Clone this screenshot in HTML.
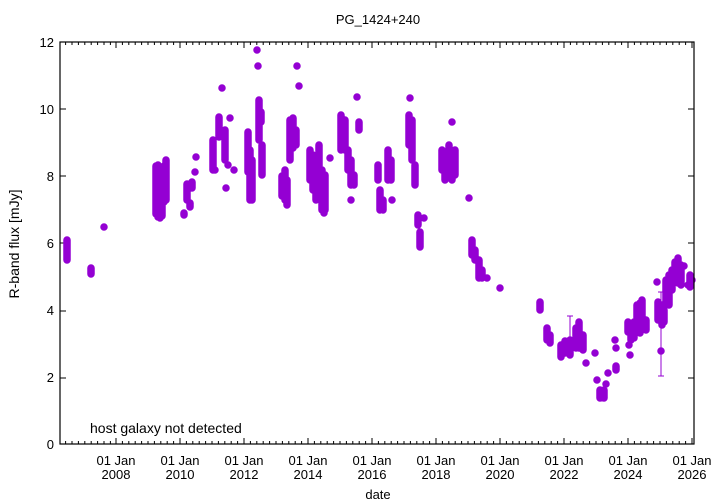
<!DOCTYPE html>
<html><head><meta charset="utf-8"><style>
body{margin:0;background:#fff}
svg{display:block;font-family:"Liberation Sans",sans-serif}
</style></head><body>
<svg width="720" height="504" xmlns="http://www.w3.org/2000/svg">
<rect width="720" height="504" fill="#fff"/>
<text x="378" y="24" font-size="13" text-anchor="middle">PG_1424+240</text>
<text x="378" y="499" font-size="13" text-anchor="middle">date</text>
<text transform="translate(19,244) rotate(-90)" font-size="14" text-anchor="middle">R-band flux [mJy]</text>
<text x="90" y="433" font-size="14">host galaxy not detected</text>
<g font-size="13" text-anchor="end">
<text x="54" y="449">0</text><text x="54" y="382">2</text><text x="54" y="315">4</text><text x="54" y="248">6</text><text x="54" y="181">8</text><text x="54" y="114">10</text><text x="54" y="47">12</text>
</g>
<g stroke="#000" stroke-width="1">
<path d="M60 378h6M60 311h6M60 243h6M60 176h6M60 109h6M694 378h-6M694 311h-6M694 243h-6M694 176h-6M694 109h-6"/>
</g>
<g font-size="13" text-anchor="middle">
<text x="116" y="465">01 Jan</text><text x="116" y="479">2008</text>
<text x="180" y="465">01 Jan</text><text x="180" y="479">2010</text>
<text x="244" y="465">01 Jan</text><text x="244" y="479">2012</text>
<text x="308" y="465">01 Jan</text><text x="308" y="479">2014</text>
<text x="372" y="465">01 Jan</text><text x="372" y="479">2016</text>
<text x="436" y="465">01 Jan</text><text x="436" y="479">2018</text>
<text x="500" y="465">01 Jan</text><text x="500" y="479">2020</text>
<text x="564" y="465">01 Jan</text><text x="564" y="479">2022</text>
<text x="628" y="465">01 Jan</text><text x="628" y="479">2024</text>
<text x="692" y="465">01 Jan</text><text x="692" y="479">2026</text>
</g>
<g stroke="#000" stroke-width="1">
<path d="M116 444v-6M180 444v-6M244 444v-6M308 444v-6M372 444v-6M436 444v-6M500 444v-6M564 444v-6M628 444v-6M692 444v-6M116 42v6M180 42v6M244 42v6M308 42v6M372 42v6M436 42v6M500 42v6M564 42v6M628 42v6M692 42v6"/>
<path d="M65.6 444v-3M72 444v-3M78.4 444v-3M84.8 444v-3M91.2 444v-3M97.6 444v-3M104 444v-3M110.4 444v-3M122.4 444v-3M128.8 444v-3M135.2 444v-3M141.6 444v-3M148 444v-3M154.4 444v-3M160.8 444v-3M167.2 444v-3M173.6 444v-3M186.4 444v-3M192.8 444v-3M199.2 444v-3M205.6 444v-3M212 444v-3M218.4 444v-3M224.8 444v-3M231.2 444v-3M237.6 444v-3M250.4 444v-3M256.8 444v-3M263.2 444v-3M269.6 444v-3M276 444v-3M282.4 444v-3M288.8 444v-3M295.2 444v-3M301.6 444v-3M314.4 444v-3M320.8 444v-3M327.2 444v-3M333.6 444v-3M340 444v-3M346.4 444v-3M352.8 444v-3M359.2 444v-3M365.6 444v-3M378.4 444v-3M384.8 444v-3M391.2 444v-3M397.6 444v-3M404 444v-3M410.4 444v-3M416.8 444v-3M423.2 444v-3M429.6 444v-3M442.4 444v-3M448.8 444v-3M455.2 444v-3M461.6 444v-3M468 444v-3M474.4 444v-3M480.8 444v-3M487.2 444v-3M493.6 444v-3M506.4 444v-3M512.8 444v-3M519.2 444v-3M525.6 444v-3M532 444v-3M538.4 444v-3M544.8 444v-3M551.2 444v-3M557.6 444v-3M570.4 444v-3M576.8 444v-3M583.2 444v-3M589.6 444v-3M596 444v-3M602.4 444v-3M608.8 444v-3M615.2 444v-3M621.6 444v-3M634.4 444v-3M640.8 444v-3M647.2 444v-3M653.6 444v-3M660 444v-3M666.4 444v-3M672.8 444v-3M679.2 444v-3M685.6 444v-3"/>
<path d="M65.6 42v3M72 42v3M78.4 42v3M84.8 42v3M91.2 42v3M97.6 42v3M104 42v3M110.4 42v3M122.4 42v3M128.8 42v3M135.2 42v3M141.6 42v3M148 42v3M154.4 42v3M160.8 42v3M167.2 42v3M173.6 42v3M186.4 42v3M192.8 42v3M199.2 42v3M205.6 42v3M212 42v3M218.4 42v3M224.8 42v3M231.2 42v3M237.6 42v3M250.4 42v3M256.8 42v3M263.2 42v3M269.6 42v3M276 42v3M282.4 42v3M288.8 42v3M295.2 42v3M301.6 42v3M314.4 42v3M320.8 42v3M327.2 42v3M333.6 42v3M340 42v3M346.4 42v3M352.8 42v3M359.2 42v3M365.6 42v3M378.4 42v3M384.8 42v3M391.2 42v3M397.6 42v3M404 42v3M410.4 42v3M416.8 42v3M423.2 42v3M429.6 42v3M442.4 42v3M448.8 42v3M455.2 42v3M461.6 42v3M468 42v3M474.4 42v3M480.8 42v3M487.2 42v3M493.6 42v3M506.4 42v3M512.8 42v3M519.2 42v3M525.6 42v3M532 42v3M538.4 42v3M544.8 42v3M551.2 42v3M557.6 42v3M570.4 42v3M576.8 42v3M583.2 42v3M589.6 42v3M596 42v3M602.4 42v3M608.8 42v3M615.2 42v3M621.6 42v3M634.4 42v3M640.8 42v3M647.2 42v3M653.6 42v3M660 42v3M666.4 42v3M672.8 42v3M679.2 42v3M685.6 42v3"/>
</g>
<g stroke="#9400d3" stroke-width="1">
<path d="M661 292v84M658 292h6M658 376h6M570 316v22M567 316h6"/>
</g>
<g stroke="#9400d3" stroke-width="7.5" stroke-linecap="round" fill="none">
<path d="M67 240v20M91 268v6M104 227v0"/>
<path d="M156 166v48M158 165v52M160 168v50M162 170v46M164 166v36M166 160v40"/>
<path d="M184 213v2M187 184v16M190 203v4M192 182v6M195 172v0M196 157v0"/>
<path d="M213 140v30M215 170v0M219 117v20M222 88v0M225 130v30M228 165v0M230 118v0M234 170v0M226 188v0"/>
<path d="M248 132v40M250 150v50M252 160v40M257 50v0M258 66v0M259 100v40M261 112v10M262 145v30"/>
<path d="M282 176v20M285 170v30M287 180v25M290 120v40M293 118v30M296 130v15M297 66v0M299 86v0"/>
<path d="M310 150v30M313 155v35M316 160v40M319 145v30M322 170v40M325 175v35M324 213v0M330 158v0"/>
<path d="M341 115v35M345 120v30M348 150v20M351 160v25M351 200v0M354 175v10M357 97v0M359 122v8"/>
<path d="M378 165v15M380 190v20M383 200v10M388 150v30M391 160v20M392 200v0"/>
<path d="M410 98v0M409 115v30M412 120v40M415 165v20M418 215v10M420 232v15M424 218v0"/>
<path d="M442 150v20M445 165v15M449 145v20M452 122v0M452 160v20M455 150v25"/>
<path d="M469 198v0M472 240v15M475 250v10M479 260v18M482 270v8M487 278v0M500 288v0"/>
<path d="M540 302v8M547 328v12M550 335v8"/>
<path d="M561 345v12M565 341v12M570 340v15M576 328v20M579 322v26M583 335v15M586 363v0M595 353v0"/>
<path d="M597 380v0M600 390v8M604 390v8M606 384v0M608 373v0M615 340v0M616 348v0M616 366v4"/>
<path d="M628 322v10M631 325v15M629 345v0M630 355v0M634 322v16M637 305v25M640 303v30M642 300v20M646 320v10"/>
<path d="M657 282v0M658 302v18M662 305v20M664 310v12M661 351v0M666 280v25M669 275v30M672 270v20M675 262v20M678 258v25M681 265v20M684 266v0M688 285v0M690 275v12M692 280v0"/>
</g>
<rect x="60" y="42" width="634" height="402" fill="none" stroke="#000" stroke-width="1.2"/>
</svg>
</body></html>
